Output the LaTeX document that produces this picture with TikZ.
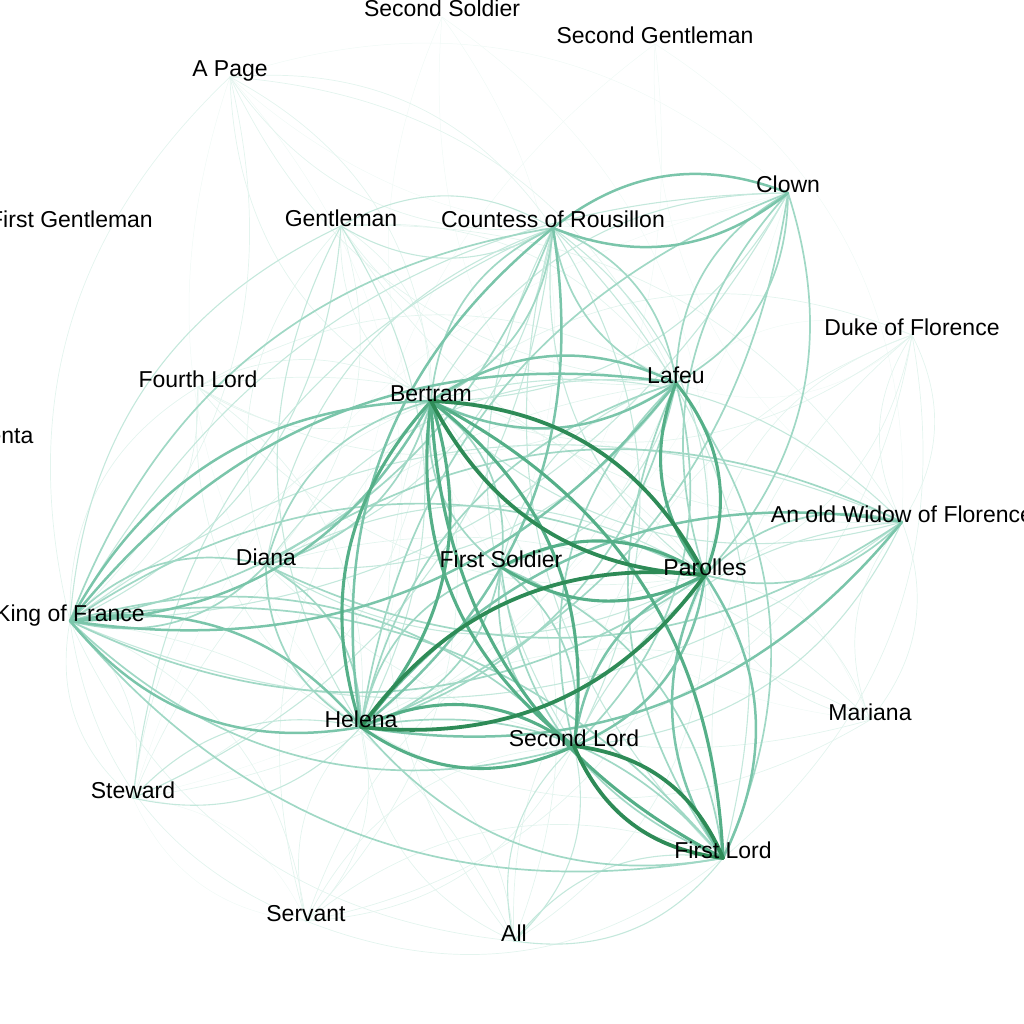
\documentclass[tikz,border=0pt]{standalone}
\usepackage{fontspec}
\setmainfont{Liberation Sans}
\usetikzlibrary{backgrounds}
\definecolor{tieO}{HTML}{F0F9F6}
\definecolor{tieA}{HTML}{E3F4EE}
\definecolor{tieB}{HTML}{C4E8DC}
\definecolor{tieC}{HTML}{A0D8C5}
\definecolor{tieD}{HTML}{7AC5AA}
\definecolor{tieE}{HTML}{55AF88}
\definecolor{tieF}{HTML}{2E8B57}
\tikzset{
  who/.style={anchor=base,inner sep=0pt,text=black,font=\fontsize{23}{27}\selectfont},
  tie/.style={line cap=round},
  tiezero/.style={tie,draw=tieO,line width=0.5pt},
  tieone/.style={tie,draw=tieA,line width=0.7pt},
  tietwo/.style={tie,draw=tieB,line width=1.1pt},
  tiethree/.style={tie,draw=tieC,line width=1.7pt},
  tiefour/.style={tie,draw=tieD,line width=2.5pt},
  tiefive/.style={tie,draw=tieE,line width=3.1pt},
  tiesix/.style={tie,draw=tieF,line width=3.8pt}
}
% both directions of a pair, each bent to its own side
\newcommand{\talk}[3]{%
  \draw[#1] (#2.base) to[bend left=30] (#3.base);
  \draw[#1] (#3.base) to[bend left=30] (#2.base);}

\begin{document}
\begin{tikzpicture}[x=1pt,y=-1pt]
  \useasboundingbox (0,0) rectangle (1024,1024);

  % characters
  \node[who] (ssold) at (442,17) {Second Soldier};
  \node[who] (sgent) at (655,44) {Second Gentleman};
  \node[who] (page)  at (230,77) {A Page};
  \node[who] (fgent) at (71,227) {First Gentleman};
  \node[who] (gent)  at (341,226) {Gentleman};
  \node[who] (cnt)   at (553,228) {Countess of Rousillon};
  \node[who] (clown) at (788,193) {Clown};
  \node[who] (duke)  at (912,335) {Duke of Florence};
  \node[who] (lafeu) at (676,383) {Lafeu};
  \node[who] (lord4) at (198,387) {Fourth Lord};
  \node[who] (bert)  at (431,401) {Bertram};
  \node[who] (viol)  at (-8,443) {Violenta};
  \node[who] (widow) at (902,522) {An old Widow of Florence};
  \node[who] (diana) at (266,565) {Diana};
  \node[who] (fsold) at (501,567) {First Soldier};
  \node[who] (paro)  at (705,575) {Parolles};
  \node[who] (king)  at (70,621) {King of France};
  \node[who] (hel)   at (361,727) {Helena};
  \node[who] (lord2) at (574,746) {Second Lord};
  \node[who] (mari)  at (870,720) {Mariana};
  \node[who] (stew)  at (133,798) {Steward};
  \node[who] (lord1) at (723,858) {First Lord};
  \node[who] (serv)  at (306,921) {Servant};
  \node[who] (all)   at (514,941) {All};

  \begin{scope}[on background layer]
    \foreach \a/\b in {ssold/fsold,ssold/paro,sgent/hel,sgent/widow,
      page/clown,page/hel,duke/lafeu,mari/bert,serv/stew,stew/clown}
      {\talk{tiezero}{\a}{\b}}
    \foreach \a/\b in {page/cnt,page/bert,page/king,page/lafeu,
      duke/bert,duke/lord1,duke/lord2,duke/widow,duke/paro,
      mari/widow,mari/diana,mari/hel,mari/paro,
      serv/bert,serv/paro,serv/lord1,serv/lord2,serv/hel,serv/king,
      all/king,all/paro,all/bert,all/hel,
      lord4/king,lord4/hel,lord4/bert,lord4/lafeu,lord4/paro,
      stew/king,stew/bert,stew/lafeu,
      gent/bert,gent/widow,gent/diana,gent/lafeu}
      {\talk{tieone}{\a}{\b}}
    \foreach \a/\b in {king/widow,king/clown,king/gent,paro/cnt,paro/diana,
      lord2/all,lord1/all,lord2/cnt,lord1/cnt,lord2/widow,bert/widow,bert/clown,
      stew/cnt,stew/hel,gent/hel,gent/cnt,diana/lafeu,diana/cnt,lafeu/fsold}
      {\talk{tietwo}{\a}{\b}}
    \foreach \a/\b in {lafeu/hel,lafeu/cnt,lafeu/clown,bert/cnt,bert/diana,
      bert/fsold,hel/diana,hel/lord1,hel/clown,hel/fsold,king/paro,king/lord1,
      king/lord2,king/diana,king/cnt,widow/diana,widow/paro,paro/clown,
      fsold/lord1,fsold/lord2,lafeu/lord1,lafeu/lord2}
      {\talk{tiethree}{\a}{\b}}
    \foreach \a/\b in {bert/lafeu,bert/king,lafeu/king,hel/king,hel/widow,cnt/clown,
      cnt/hel,paro/lord1,paro/lord2}
      {\talk{tiefour}{\a}{\b}}
    \foreach \a/\b in {bert/lord2,bert/lord1,hel/lord2,paro/fsold,lafeu/paro,hel/bert}
      {\talk{tiefive}{\a}{\b}}
    \foreach \a/\b in {bert/paro,hel/paro,lord2/lord1}
      {\talk{tiesix}{\a}{\b}}
  \end{scope}
\end{tikzpicture}
\end{document}
